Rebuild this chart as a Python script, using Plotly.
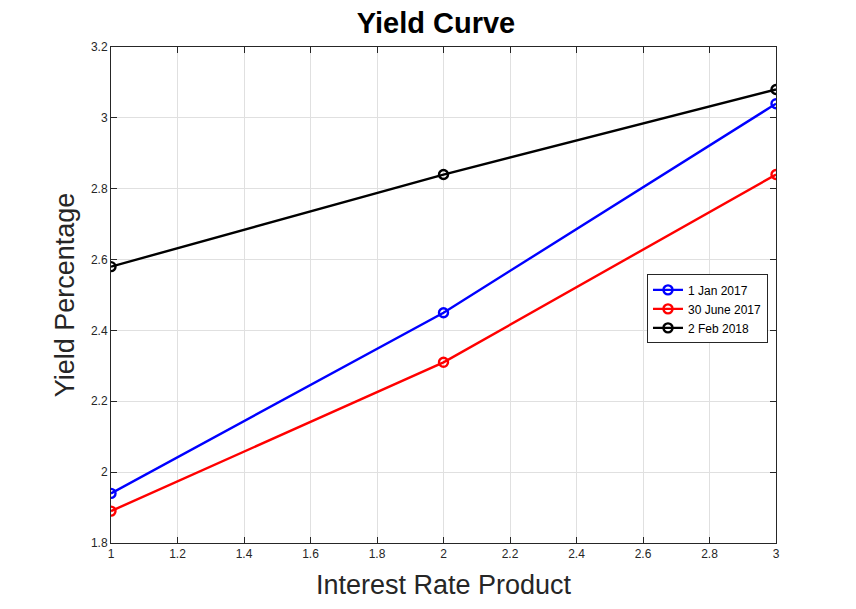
import plotly.graph_objects as go

products = [1, 2, 3]
jan_2017 = [1.94, 2.45, 3.04]
june_2017 = [1.89, 2.31, 2.84]
feb_2018 = [2.58, 2.84, 3.08]

series = [
    ("1 Jan 2017", jan_2017, "#0000ff"),
    ("30 June 2017", june_2017, "#ff0000"),
    ("2 Feb 2018", feb_2018, "#000000"),
]

fig = go.Figure()
for name, vals, col in series:
    fig.add_trace(go.Scatter(
        x=products, y=vals, name=name, mode="lines+markers",
        line=dict(color=col, width=2.4),
        marker=dict(symbol="circle-open", size=9, color=col, line=dict(width=2.4)),
    ))

axis_common = dict(
    showline=True, linecolor="#262626", linewidth=1, mirror="ticks",
    ticks="inside", ticklen=6, tickcolor="#262626",
    showgrid=True, gridcolor="#e0e0e0", gridwidth=1,
    zeroline=False, tickfont=dict(size=12, color="#262626"),
)

# page has ~8px body margin, so margins are shifted to compensate
fig.update_layout(
    width=856, height=609,
    paper_bgcolor="white", plot_bgcolor="white",
    font=dict(family="Liberation Sans, Arial, sans-serif", color="#262626"),
    title=dict(text="<b>Yield Curve</b>", x=0.5, xanchor="center", y=0.976, yanchor="middle",
               font=dict(size=29, color="#000000")),
    margin=dict(l=103, r=88, t=39, b=74),
    xaxis=dict(range=[1, 3], dtick=0.2, tickformat="~g",
               title=dict(text="Interest Rate Product", font=dict(size=27), standoff=14),
               **axis_common),
    yaxis=dict(range=[1.8, 3.2], dtick=0.2, tickformat="~g",
               title=dict(text="Yield Percentage", font=dict(size=27), standoff=8),
               **axis_common),
    legend=dict(x=0.806, y=0.472, xanchor="left", yanchor="middle",
                bgcolor="white", bordercolor="#262626", borderwidth=1,
                font=dict(size=12, color="#000000"), tracegroupgap=0,
                itemwidth=30),
    showlegend=True,
)

fig.write_html("out.html")
